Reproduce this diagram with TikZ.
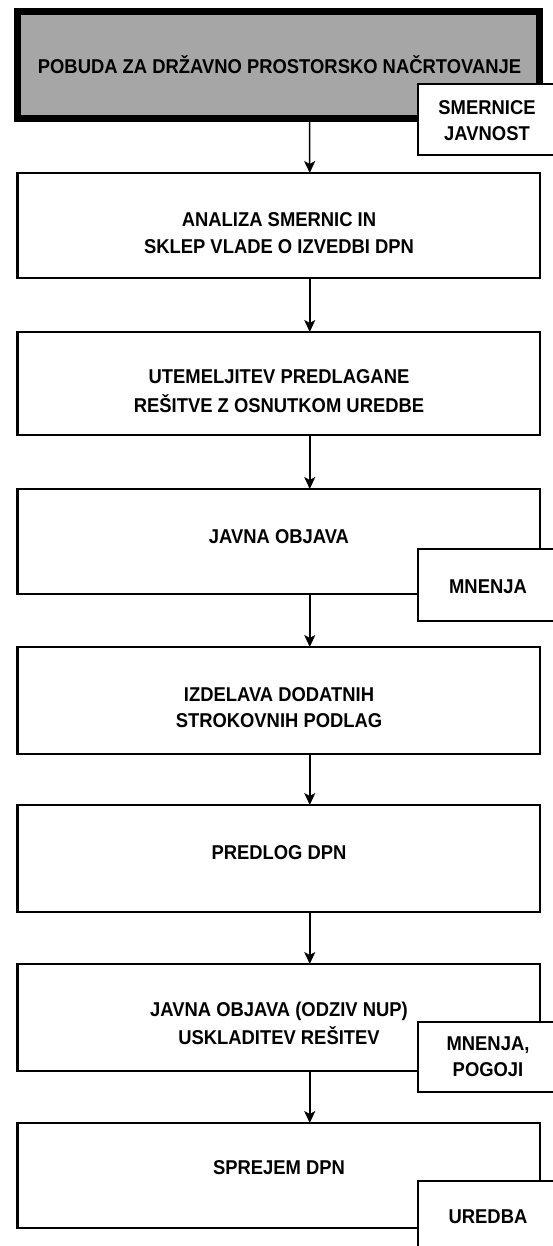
\documentclass[tikz,border=0pt]{standalone}
\usepackage{fontspec}
\usepackage{graphicx}
\setmainfont{Liberation Sans}
\usetikzlibrary{arrows.meta}
\definecolor{boxgray}{RGB}{166,166,166}
\newcommand\condtxt[1]{\scalebox{0.92}[1]{#1}}
\begin{document}
\begin{tikzpicture}[x=1pt,y=-1pt,
  mainbox/.style={draw,line width=2.5pt,fill=white,outer sep=0pt,inner sep=0pt,
    minimum width=522.5pt,anchor=north west},
  startbox/.style={draw,line width=7pt,fill=boxgray,outer sep=0pt,inner sep=0pt,
    minimum width=522pt,minimum height=107pt,anchor=north west},
  sidebox/.style={draw,line width=2pt,fill=white,outer sep=0pt,inner sep=0pt,
    minimum width=180pt,anchor=north west},
  lbl/.style={font=\fontsize{20}{24}\selectfont\bfseries,inner sep=0pt,anchor=center},
  flow/.style={line width=1.5pt,-{Stealth[length=12pt,width=11pt,inset=3pt]}}]
\useasboundingbox (0,0) rectangle (553,1246);
\fill[white] (0,0) rectangle (553,1246);

% main boxes
\node[startbox] (b0) at (17.5,11.5) {};
\node[mainbox,minimum height=105pt] (b1) at (17.5,173) {};
\node[mainbox,minimum height=103pt] (b2) at (17.5,332) {};
\node[mainbox,minimum height=105pt] (b3) at (17.5,489) {};
\node[mainbox,minimum height=107pt] (b4) at (17.5,647) {};
\node[mainbox,minimum height=107pt] (b5) at (17.5,805) {};
\node[mainbox,minimum height=107pt] (b6) at (17.5,964) {};
\node[mainbox,minimum height=105pt] (b7) at (17.5,1123) {};

% texts of main boxes
\node[lbl] (t0) at (279.5,65) {\condtxt{POBUDA ZA DRŽAVNO PROSTORSKO NAČRTOVANJE}};
\node[lbl] (t1a) at (279,220) {\condtxt{ANALIZA SMERNIC IN}};
\node[lbl] (t1b) at (279,247) {\condtxt{SKLEP VLADE O IZVEDBI DPN}};
\node[lbl] (t2a) at (279,377) {\condtxt{UTEMELJITEV PREDLAGANE}};
\node[lbl] (t2b) at (279,404) {\condtxt{REŠITVE Z OSNUTKOM UREDBE}};
\node[lbl] (t3) at (279,537) {\condtxt{JAVNA OBJAVA}};
\node[lbl] (t4a) at (279,695) {\condtxt{IZDELAVA DODATNIH}};
\node[lbl] (t4b) at (279,721) {\condtxt{STROKOVNIH PODLAG}};
\node[lbl] (t5) at (279,853) {\condtxt{PREDLOG DPN}};
\node[lbl] (t6a) at (279,1011) {\condtxt{JAVNA OBJAVA (ODZIV NUP)}};
\node[lbl] (t6b) at (279,1036) {\condtxt{USKLADITEV REŠITEV}};
\node[lbl] (t7) at (279,1168) {\condtxt{SPREJEM DPN}};

% connectors
\draw[flow] ([xshift=31pt]b0.south) -- ([xshift=31pt]b1.north);
\draw[flow] ([xshift=31pt]b1.south) -- ([xshift=31pt]b2.north);
\draw[flow] ([xshift=31pt]b2.south) -- ([xshift=31pt]b3.north);
\draw[flow] ([xshift=31pt]b3.south) -- ([xshift=31pt]b4.north);
\draw[flow] ([xshift=31pt]b4.south) -- ([xshift=31pt]b5.north);
\draw[flow] ([xshift=31pt]b5.south) -- ([xshift=31pt]b6.north);
\draw[flow] ([xshift=31pt]b6.south) -- ([xshift=31pt]b7.north);

% side boxes
\node[sidebox,minimum height=71pt] (s0) at (418,84) {};
\node[sidebox,minimum height=72pt] (s3) at (418,549) {};
\node[sidebox,minimum height=70pt] (s6) at (418,1022) {};
\node[sidebox,minimum height=120pt] (s7) at (418,1181) {};

\node[lbl] (u0a) at (487,108) {\condtxt{SMERNICE}};
\node[lbl] (u0b) at (487,134) {\condtxt{JAVNOST}};
\node[lbl] (u3) at (488,587) {\condtxt{MNENJA}};
\node[lbl] (u6a) at (488,1045) {\condtxt{MNENJA,}};
\node[lbl] (u6b) at (488,1070) {\condtxt{POGOJI}};
\node[lbl] (u7) at (488,1217) {\condtxt{UREDBA}};
\end{tikzpicture}
\end{document}
